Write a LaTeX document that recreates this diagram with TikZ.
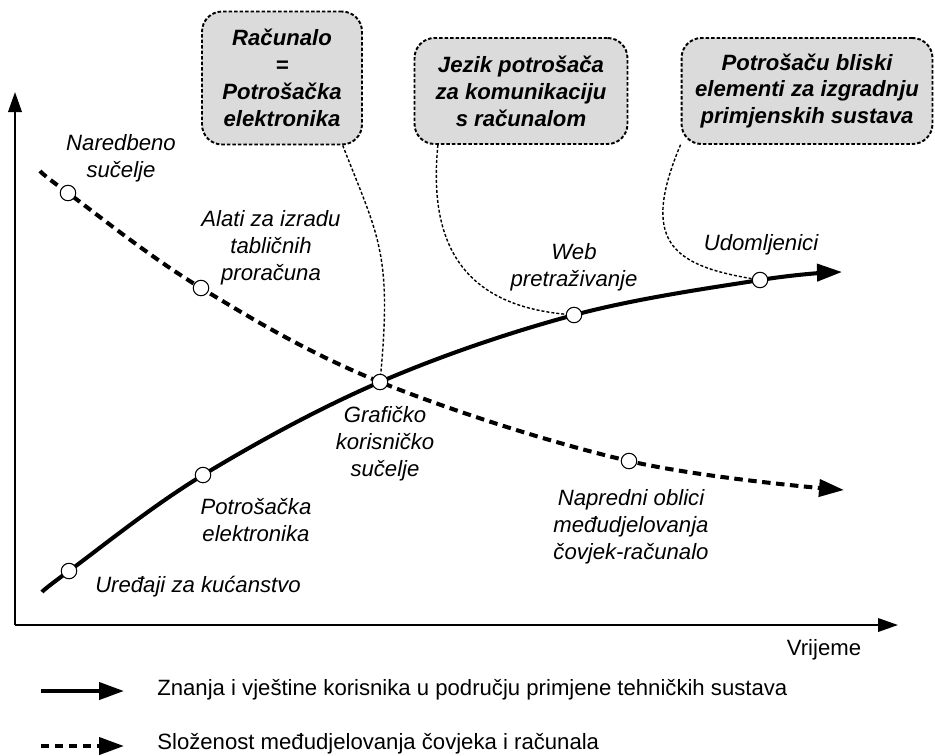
\documentclass[tikz,border=0pt]{standalone}
\usepackage{fontspec}
\setmainfont{Liberation Sans}
\usetikzlibrary{arrows.meta}

\begin{document}
\begin{tikzpicture}[x=0.02cm,y=-0.02cm,
        lbl/.style={font=\fontsize{12.6}{15.3}\selectfont\itshape,align=center,inner sep=0pt},
        txt/.style={font=\fontsize{12.6}{15.3}\selectfont,inner sep=0pt},
        note/.style={draw,rounded corners=0.4cm,fill=black!14,line width=1.1pt,
            dash pattern=on 0.07cm off 0.04cm,align=center,inner sep=0pt,
            font=\fontsize{12.6}{15.3}\selectfont\bfseries\itshape},
        dot/.style={circle,draw,fill=white,line width=0.6pt,minimum size=0.31cm,inner sep=0pt},
        knowhow/.style={line width=2.3pt,arrows=-{Triangle[length=0.5cm,width=0.34cm]}},
        complexity/.style={knowhow,dash pattern=on 0.17cm off 0.11cm},
        leader/.style={line width=0.8pt,dash pattern=on 0.06cm off 0.04cm},
        axis/.style={line width=1.1pt,arrows=-{Triangle[length=0.4cm,width=0.27cm]}}]

            %\draw [help lines] (0,0) grid (935,755);
            \useasboundingbox (0,0) rectangle (935,755);

            % axes
            \coordinate (o) at (15,625);
            \coordinate (ytop) at (15,92);
            \coordinate (xend) at (898,625);
            \draw[axis] (o) -- (ytop);
            \draw[axis] (o) -- (xend);
            \node[txt] (time) at (824,650) {Vrijeme};

            % points on the curves
            \path   (42,592) coordinate (k0)
                    (69,571) coordinate (k1)
                    (203,475) coordinate (k2)
                    (380,382) coordinate (x)
                    (574,315) coordinate (k4)
                    (760,280) coordinate (k5)
                    (842,272) coordinate (k6)
                    (40,171) coordinate (d0)
                    (68,193) coordinate (d1)
                    (201,288) coordinate (d2)
                    (629,461) coordinate (d4)
                    (844,490) coordinate (d5);

            \draw[knowhow] plot[smooth,tension=0.6] coordinates {(k0) (k1) (k2) (x) (k4) (k5) (k6)};
            \draw[complexity] plot[smooth,tension=0.6] coordinates {(d0) (d1) (d2) (x) (d4) (d5)};

            % callouts
            \node (calc) [note,minimum width=3.2cm,minimum height=2.66cm] at (282,78)
                    {Računalo\\=\\Potrošačka\\elektronika};
            \node (lang) [note,minimum width=4.26cm,minimum height=2.12cm] at (521,91)
                    {Jezik potrošača\\za komunikaciju\\s računalom};
            \node (parts) [note,minimum width=5.02cm,minimum height=2.12cm] at (807,91)
                    {Potrošaču bliski\\elementi za izgradnju\\primjenskih sustava};

            \path   (k1) node (home) [dot] {}
                    (k2) node (cons) [dot] {}
                    (x) node (gui) [dot] {}
                    (k4) node (web) [dot] {}
                    (k5) node (ubiq) [dot] {}
                    (d1) node (cmd) [dot] {}
                    (d2) node (sheet) [dot] {}
                    (d4) node (hci) [dot] {};

            \draw[leader] (calc.-48) .. controls +(35,90) and +(12,-130) .. (gui);
            \draw[leader] (lang.-147) .. controls +(-10,100) and +(-110,-10) .. (web);
            \draw[leader] (parts.-157) .. controls +(-40,95) and +(-90,-15) .. (ubiq);

            % labels
            \path   (121,158) node (cmdl) [lbl] {Naredbeno\\sučelje}
                    (271,248) node (sheetl) [lbl] {Alati za izradu\\tabličnih\\proračuna}
                    (385,444) node (guil) [lbl] {Grafičko\\korisničko\\sučelje}
                    (574,267) node (webl) [lbl] {Web\\pretraživanje}
                    (761,245) node (ubiql) [lbl] {Udomljenici}
                    (256,520) node (consl) [lbl] {Potrošačka\\elektronika}
                    (198,587) node (homel) [lbl] {Uređaji za kućanstvo}
                    (631,527) node (hcil) [lbl] {Napredni oblici\\međudjelovanja\\čovjek-računalo};

            % legend
            \coordinate (l1) at (41,691);
            \coordinate (l1e) at (124,691);
            \coordinate (l2) at (41,746);
            \coordinate (l2e) at (124,746);
            \draw[knowhow] (l1) -- (l1e);
            \draw[complexity] (l2) -- (l2e);
            \node (leg1) [txt,anchor=west] at (157,690) {Znanja i vještine korisnika u području primjene tehničkih sustava};
            \node (leg2) [txt,anchor=west] at (157,744) {Složenost međudjelovanja čovjeka i računala};

        \end{tikzpicture}
\end{document}
